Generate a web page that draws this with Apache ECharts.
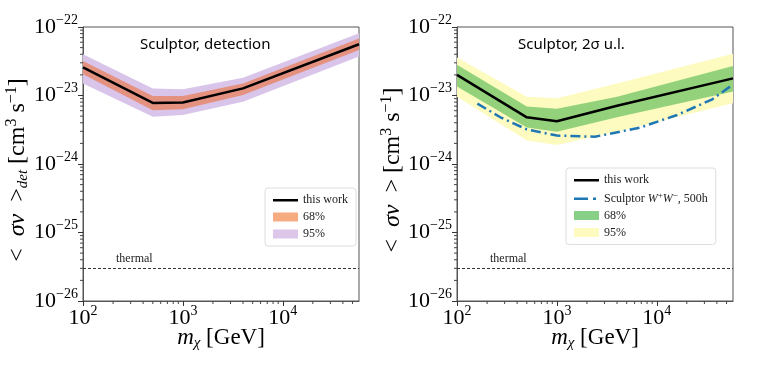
<!DOCTYPE html>
<html>
<head>
<meta charset="utf-8">
<script src="https://cdn.jsdelivr.net/npm/echarts@6/dist/echarts.min.js"></script>
<style>
  html, body { margin: 0; padding: 0; background: #fff; }
  #chart { width: 758px; height: 379px; }
</style>
</head>
<body>
<div id="chart"></div>
<script>
// masses [GeV] where the curves are sampled
const masses = [100, 500, 1000, 4000, 58000];

// left panel: detection, <sigma v> in cm^3 s^-1
const detLine = [2.57e-23, 7.8e-24, 7.9e-24, 1.27e-23, 5.6e-23];
const det68Lo = [2.05e-23, 6.1e-24, 6.3e-24, 1.02e-23, 4.6e-23];
const det68Hi = [3.2e-23, 9.8e-24, 9.8e-24, 1.5e-23, 6.8e-23];
const det95Lo = [1.5e-23, 4.9e-24, 5.2e-24, 8.1e-24, 3.7e-23];
const det95Hi = [4.0e-23, 1.27e-23, 1.23e-23, 1.82e-23, 8.1e-23];

// right panel: 2 sigma upper limit
const ulLine = [2.0e-23, 4.8e-24, 4.2e-24, 7.1e-24, 1.78e-23];
const ul68Lo = [1.35e-23, 3.4e-24, 2.95e-24, 4.8e-24, 1.14e-23];
const ul68Hi = [2.8e-23, 6.9e-24, 6.4e-24, 9.6e-24, 2.7e-23];
const ul95Lo = [9.6e-24, 2.2e-24, 1.9e-24, 2.95e-24, 7.7e-24];
const ul95Hi = [3.6e-23, 9.6e-24, 9.1e-24, 1.5e-23, 4.06e-23];

// Sculptor W+W-, 500h
const wwMass = [160, 280, 500, 1000, 2400, 6800, 16000, 36000, 58000];
const wwLimit = [7.6e-24, 4.7e-24, 3.2e-24, 2.6e-24, 2.5e-24, 3.4e-24, 5.2e-24, 8.8e-24, 1.45e-23];

const thermal = 3e-26;
const xMin = 100, xMax = 58000;
const yMin = 1e-26, yMax = 1e-22;

// the log axis loses precision near 1e-26, so plot in units of 1e-26
const yUnitExp = -26;
const yUnit = Math.pow(10, yUnitExp);
const sc = v => v / yUnit;

// minor tick positions (2..9 x each decade)
const minorX = [];
const minorY = [];
for (let e = 2; e <= 4; e++) for (let k = 2; k <= 9; k++) if (k * Math.pow(10, e) < xMax) minorX.push(k * Math.pow(10, e));
for (let e = 0; e <= 3; e++) for (let k = 2; k <= 9; k++) minorY.push(k * Math.pow(10, e));

const serif = "'Liberation Serif', 'DejaVu Serif', serif";
const chart = echarts.init(document.getElementById('chart'));

const legendText = {
    'this work|L': 'this work',
    '68%|L': '68%',
    '95%|L': '95%',
    'this work|R': 'this work',
    'ww|R': 'Sculptor {i|W}{sup|+}{i|W}{sup|−}, 500h',
    '68%|R': '68%',
    '95%|R': '95%'
};

function powLabel(exp) {
    return '{b|10}{s|' + String(exp).replace('-', '−') + '}';
}

const tickRich = {
    b: { fontFamily: serif, fontSize: 22, color: '#000', lineHeight: 28 },
    s: { fontFamily: serif, fontSize: 14, color: '#000', lineHeight: 28, verticalAlign: 'top', padding: [0, 0, 13, 0] }
};

const nameRich = {
    t: { fontFamily: serif, fontSize: 23, color: '#000' },
    i: { fontFamily: serif, fontSize: 23, color: '#000', fontStyle: 'italic' },
    sub: { fontFamily: serif, fontSize: 15, color: '#000', fontStyle: 'italic', padding: [11, 0, 0, 0] },
    sup: { fontFamily: serif, fontSize: 16, color: '#000', padding: [0, 0, 11, 0] }
};

const yNameRich = Object.assign({}, nameRich, {
    t: { fontFamily: serif, fontSize: 24, color: '#000' },
    i: { fontFamily: serif, fontSize: 24, color: '#000', fontStyle: 'italic' }
});

function xAxis(gridIndex) {
    return {
        type: 'log', logBase: 10, gridIndex, min: xMin, max: xMax,
        name: '{i|m}{sub|χ}{t| [GeV]}',
        nameLocation: 'middle', nameGap: 24, nameMoveOverlap: false,
        nameTextStyle: { rich: nameRich },
        axisLine: { lineStyle: { color: '#555' } },
        axisTick: { inside: false, length: 5, lineStyle: { color: '#333' } },
        splitLine: { show: false },
        axisLabel: {
            formatter: v => powLabel(Math.round(Math.log10(v))),
            rich: tickRich, margin: 3, showMaxLabel: false
        }
    };
}

function yAxis(gridIndex, name, gap) {
    return {
        type: 'log', logBase: 10, gridIndex, min: sc(yMin), max: sc(yMax),
        name: name,
        nameLocation: 'middle', nameGap: gap,
        nameTextStyle: { rich: yNameRich },
        axisLine: { lineStyle: { color: '#555' } },
        axisTick: { inside: false, length: 5, lineStyle: { color: '#333' } },
        splitLine: { show: false },
        axisLabel: {
            formatter: v => powLabel(Math.round(Math.log10(v)) + yUnitExp),
            rich: tickRich, margin: 5
        }
    };
}

function bandSeries(name, gridIndex, xs, lo, hi, color, z) {
    return {
        type: 'custom', name, xAxisIndex: gridIndex, yAxisIndex: gridIndex, z,
        silent: true,
        itemStyle: { color },
        data: xs.map((x, i) => [x, sc(lo[i]), sc(hi[i])]),
        encode: { x: 0, y: [1, 2] },
        renderItem: function(params, api) {
            if (params.dataIndex !== 0) return;
            const pts = [];
            for (let i = 0; i < xs.length; i++) pts.push(api.coord([xs[i], sc(hi[i])]));
            for (let i = xs.length - 1; i >= 0; i--) pts.push(api.coord([xs[i], sc(lo[i])]));
            return { type: 'polygon', shape: { points: pts }, style: { fill: color } };
        }
    };
}

// short outward ticks at minor positions, placed through the axis scales
function minorTickSeries(gridIndex) {
    const data = minorX.map(v => [v, sc(yMin), 0]).concat(minorY.map(v => [xMin, v, 1]));
    return {
        type: 'custom', xAxisIndex: gridIndex, yAxisIndex: gridIndex, z: 10,
        silent: true, clip: false,
        data,
        renderItem: function(params, api) {
            const p = api.coord([api.value(0), api.value(1)]);
            const isY = api.value(2) === 1;
            const shape = isY
                ? { x1: p[0] - 3, y1: p[1], x2: p[0], y2: p[1] }
                : { x1: p[0], y1: p[1], x2: p[0], y2: p[1] + 3 };
            return { type: 'line', shape, style: { stroke: '#444', lineWidth: 1 } };
        }
    };
}

function thermalLine() {
    return {
        silent: true,
        symbol: 'none',
        lineStyle: { color: '#333', type: [3, 2], width: 1 },
        label: {
            show: true, position: 'insideStartTop', formatter: 'thermal',
            fontFamily: serif, fontSize: 12, color: '#222', distance: [33, 3]
        },
        data: [{ yAxis: sc(thermal) }]
    };
}

const lineIcon = 'path://M0,0 L0,0 M0,3.5 L25,3.5 L25,6 L0,6 Z M25,9 L25,9';
const dashDotIcon = 'path://M0,0 L0,0 M0,3.5 L14,3.5 L14,6 L0,6 Z M19,3.5 L22,3.5 L22,6 L19,6 Z M25,9 L25,9';

const legendBase = {
    orient: 'vertical',
    itemWidth: 25, itemHeight: 9, itemGap: 5,
    backgroundColor: '#fff', borderColor: '#ddd', borderWidth: 1, borderRadius: 3,
    padding: [6, 8, 6, 8],
    selectedMode: false,
    formatter: name => legendText[name],
    textStyle: {
        fontFamily: serif, fontSize: 12, color: '#222',
        rich: {
            i: { fontFamily: serif, fontSize: 12, fontStyle: 'italic', color: '#222' },
            sup: { fontFamily: serif, fontSize: 9, color: '#222', padding: [0, 0, 6, 0] }
        }
    }
};

const option = {
    animation: false,
    grid: [
        { left: 83, right: 399, top: 27, bottom: 78, show: true, borderColor: '#555', borderWidth: 1 },
        { left: 457, right: 25, top: 27, bottom: 78, show: true, borderColor: '#555', borderWidth: 1 }
    ],
    xAxis: [xAxis(0), xAxis(1)],
    yAxis: [
        yAxis(0, '{t|<\u2002}{i|σv}{t|\u2002>}{sub|det}{t| [cm}{sup|3}{t| s}{sup|−1}{t|]\u2002}', 45),
        yAxis(1, '{t|<\u2002}{i|σv}{t|\u2002> [cm}{sup|3}{t| s}{sup|−1}{t|]\u2002}', 47)
    ],
    graphic: [
        { type: 'text', left: 140, top: 37, style: { text: 'Sculptor, detection', font: "15px 'Noto Sans', sans-serif", fill: '#000' } },
        { type: 'text', left: 518, top: 37, style: { text: 'Sculptor, 2σ u.l.', font: "15px 'Noto Sans', sans-serif", fill: '#000' } }
    ],
    legend: [
        Object.assign({}, legendBase, {
            left: 265, top: 188,
            data: [
                { name: 'this work|L', icon: lineIcon, itemStyle: { color: '#000' } },
                { name: '68%|L', icon: 'rect', itemStyle: { color: '#f6ab80' } },
                { name: '95%|L', icon: 'rect', itemStyle: { color: '#dcc6ea' } }
            ]
        }),
        Object.assign({}, legendBase, {
            left: 566, top: 168,
            data: [
                { name: 'this work|R', icon: lineIcon, itemStyle: { color: '#000' } },
                { name: 'ww|R', icon: dashDotIcon, itemStyle: { color: '#1f77b4' } },
                { name: '68%|R', icon: 'rect', itemStyle: { color: '#88d088' } },
                { name: '95%|R', icon: 'rect', itemStyle: { color: '#fdfbc0' } }
            ]
        })
    ],
    series: [
        bandSeries('95%|L', 0, masses, det95Lo, det95Hi, '#d9c5ea', 1),
        bandSeries('68%|L', 0, masses, det68Lo, det68Hi, '#e4917f', 2),
        {
            type: 'line', name: 'this work|L', xAxisIndex: 0, yAxisIndex: 0, z: 3,
            symbol: 'none', silent: true,
            lineStyle: { color: '#000', width: 2.5 },
            itemStyle: { color: '#000' },
            data: masses.map((m, i) => [m, sc(detLine[i])]),
            markLine: thermalLine()
        },
        minorTickSeries(0),
        bandSeries('95%|R', 1, masses, ul95Lo, ul95Hi, '#fdfbc0', 1),
        bandSeries('68%|R', 1, masses, ul68Lo, ul68Hi, '#93d27a', 2),
        {
            type: 'line', name: 'this work|R', xAxisIndex: 1, yAxisIndex: 1, z: 4,
            symbol: 'none', silent: true,
            lineStyle: { color: '#000', width: 2.5 },
            itemStyle: { color: '#000' },
            data: masses.map((m, i) => [m, sc(ulLine[i])]),
            markLine: thermalLine()
        },
        {
            type: 'line', name: 'ww|R', xAxisIndex: 1, yAxisIndex: 1, z: 3,
            symbol: 'none', silent: true,
            lineStyle: { color: '#1f77b4', width: 2.5, type: [10, 4, 2, 4] },
            itemStyle: { color: '#1f77b4' },
            data: wwMass.map((m, i) => [m, sc(wwLimit[i])])
        },
        minorTickSeries(1)
    ]
};

chart.setOption(option);
</script>
</body>
</html>
